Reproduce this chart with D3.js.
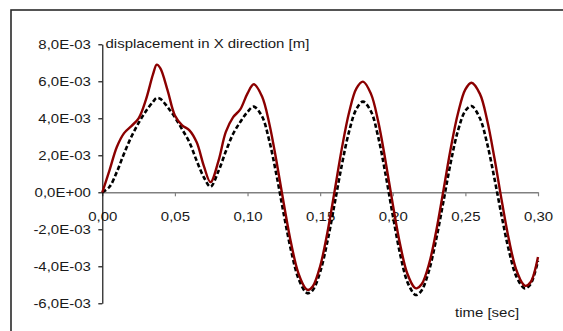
<!DOCTYPE html>
<html>
<head>
<meta charset="utf-8">
<script src="https://cdn.jsdelivr.net/npm/d3@7"></script>
<style>
  html, body { margin: 0; padding: 0; background: #fff; }
  svg { display: block; }
  text { font-family: "Liberation Sans", Arial, sans-serif; fill: #1a1a1a; }
</style>
</head>
<body>
<svg id="chart" width="563" height="331"></svg>
<script>
// time [sec]
const times = [0,0.005,0.010,0.015,0.020,0.025,0.030,0.035,0.0375,0.040,0.045,0.050,0.055,0.060,0.065,0.070,0.0745,0.080,0.085,0.090,0.095,0.100,0.1043,0.110,0.115,0.120,0.125,0.130,0.135,0.140,0.1418,0.145,0.150,0.155,0.160,0.165,0.170,0.175,0.1795,0.185,0.190,0.195,0.200,0.205,0.210,0.215,0.2165,0.220,0.225,0.230,0.235,0.240,0.245,0.250,0.2542,0.260,0.265,0.270,0.275,0.280,0.285,0.290,0.2915,0.295,0.300];
// displacement, solid dark red series [m]
const seriesSolid = [0,0.0012,0.00245,0.0032,0.00358,0.0040,0.0050,0.0064,0.0069,0.0067,0.0055,0.00415,0.00362,0.00335,0.0027,0.0014,0.00055,0.0017,0.00325,0.00405,0.00448,0.00535,0.00584,0.00518,0.00371,0.00165,-0.00063,-0.00276,-0.00437,-0.0052,-0.00528,-0.00508,-0.0040,-0.00217,0.00009,0.0024,0.00434,0.00562,0.00598,0.00532,0.00382,0.0017,-0.00064,-0.0028,-0.00439,-0.00515,-0.00519,-0.00496,-0.00387,-0.00206,0.00016,0.00241,0.0043,0.00556,0.00592,0.00532,0.00389,0.00185,-0.00044,-0.00257,-0.00418,-0.00499,-0.00506,-0.00485,-0.0035];
// displacement, dashed black series [m]
const seriesDashed = [0,0.0003,0.0011,0.0021,0.0030,0.00375,0.00438,0.0049,0.0051,0.00505,0.0046,0.00405,0.0034,0.0027,0.0017,0.0008,0.0003,0.00115,0.0022,0.00315,0.0038,0.00435,0.00463,0.0041,0.00278,0.00091,-0.0012,-0.00316,-0.00465,-0.0054,-0.00546,-0.00528,-0.00431,-0.00266,-0.0006,0.00151,0.00331,0.00451,0.0049,0.00437,0.00298,0.00099,-0.00124,-0.00331,-0.00483,-0.00552,-0.00555,-0.00529,-0.00422,-0.0025,-0.00045,0.00165,0.00336,0.00441,0.00466,0.0040,0.00263,0.00075,-0.00129,-0.00316,-0.00453,-0.00516,-0.00519,-0.00495,-0.0037];

const xTickValues = [0,0.05,0.10,0.15,0.20,0.25,0.30];
const xTickLabels = ["0,00","0,05","0,10","0,15","0,20","0,25","0,30"];
const yTickValues = [-0.006,-0.004,-0.002,0,0.002,0.004,0.006,0.008];
const yTickLabels = ["-6,0E-03","-4,0E-03","-2,0E-03","0,0E+00","2,0E-03","4,0E-03","6,0E-03","8,0E-03"];
const yTitle = "displacement in X direction [m]";
const xTitle = "time [sec]";

const svg = d3.select("#chart");
const SX = 1.17; // horizontal text stretch

// outer frame
svg.append("rect")
  .attr("x", 11).attr("y", 10).attr("width", 600).attr("height", 400)
  .attr("fill", "none").attr("stroke", "#2a2a2a").attr("stroke-width", 1.6);

const x = d3.scaleLinear().domain([0, 0.3]).range([102.3, 538]);
const y = d3.scaleLinear().domain([-0.006, 0.008]).range([303.3, 44.3]);

// x axis at y=0
const xAxis = svg.append("g")
  .attr("transform", `translate(0,${y(0)})`)
  .call(d3.axisBottom(x).tickValues(xTickValues).tickSize(4).tickSizeOuter(0).tickFormat(""));
xAxis.select(".domain").attr("stroke", "#808080").attr("stroke-width", 1.4);
xAxis.selectAll(".tick line").attr("stroke", "#808080").attr("stroke-width", 1.2);
xAxis.selectAll(".tick").append("text")
  .attr("transform", `translate(0,${220.5 - y(0)}) scale(${SX},1)`)
  .attr("text-anchor", "middle")
  .style("font-size", "12.8px")
  .text((d, i) => xTickLabels[i]);

// y axis
const yAxis = svg.append("g")
  .attr("transform", `translate(${x(0)},0)`)
  .call(d3.axisLeft(y).tickValues(yTickValues).tickSize(4).tickSizeOuter(0).tickFormat(""));
yAxis.select(".domain").attr("stroke", "#000").attr("stroke-width", 1.1);
yAxis.selectAll(".tick line").attr("stroke", "#000").attr("stroke-width", 1.1);
yAxis.selectAll(".tick").append("text")
  .attr("transform", `translate(-11.5,4.5) scale(${SX},1)`)
  .attr("text-anchor", "end")
  .style("font-size", "12.8px")
  .text((d, i) => yTickLabels[i]);

// lines
const line = (vals) => d3.line()
  .x((d, i) => x(times[i]))
  .y(d => y(d))
  .curve(d3.curveCatmullRom.alpha(0.5))(vals);

svg.append("path")
  .attr("d", line(seriesDashed))
  .attr("fill", "none").attr("stroke", "#000")
  .attr("stroke-width", 2.6).attr("stroke-dasharray", "4.5,2.5");

svg.append("path")
  .attr("d", line(seriesSolid))
  .attr("fill", "none").attr("stroke", "#8b0000")
  .attr("stroke-width", 2.4);

// titles
svg.append("text")
  .attr("transform", `translate(105.5,48) scale(${SX},1)`)
  .style("font-size", "12.8px")
  .text(yTitle);
svg.append("text")
  .attr("transform", `translate(455,316.5) scale(${SX},1)`)
  .style("font-size", "12.8px")
  .text(xTitle);
</script>
</body>
</html>
